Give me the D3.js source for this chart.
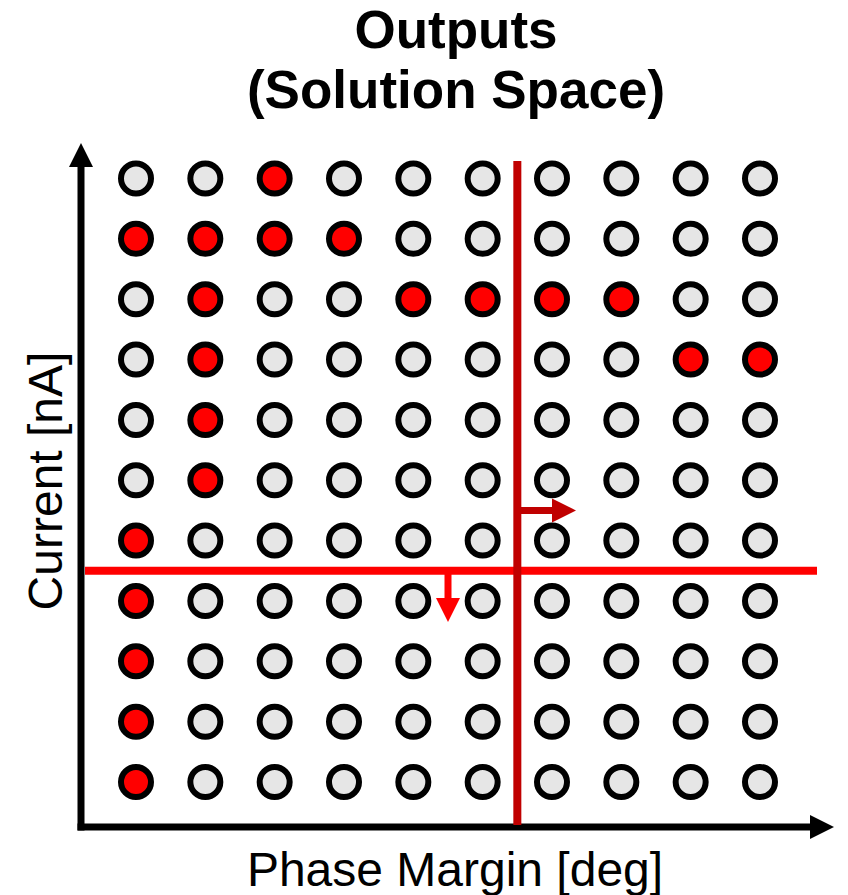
<!DOCTYPE html>
<html>
<head>
<meta charset="utf-8">
<script src="https://cdn.jsdelivr.net/npm/d3@7"></script>
<style>
  html, body { margin: 0; padding: 0; background: #fff; }
  svg { display: block; font-family: "Liberation Sans", Arial, sans-serif; }
</style>
</head>
<body>
<div id="chart"></div>
<script>
// Grid of candidate solutions: 10 phase-margin steps x 11 current steps
const columns = d3.range(10);
const rows = d3.range(11);
// red (selected) columns for each row, top row first
const selectedByRow = [[2], [0, 1, 2, 3], [1, 4, 5, 6, 7], [1, 8, 9], [1], [1], [0], [0], [0], [0], [0]];
// constraint boundaries, in grid units
const pmLimit = 5.5;       // vertical line, between col 5 and 6
const currentLimit = 6.5;  // horizontal line, between row 6 and 7
const titleLines = ['Outputs', '(Solution Space)'];
const xLabel = 'Phase Margin [deg]';
const yLabel = 'Current [nA]';

const W = 848, H = 895;

const svg = d3.select('#chart')
  .append('svg')
  .attr('width', W)
  .attr('height', H)
  .attr('viewBox', `0 0 ${W} ${H}`);

const x = d3.scaleLinear().domain([0, 9]).range([136, 760]);
const y = d3.scaleLinear().domain([0, 10]).range([178.5, 782]);

const cells = rows.flatMap(r => columns.map(c => ({ r, c, on: selectedByRow[r].includes(c) })));

// Title
svg.append('g').selectAll('text')
  .data(titleLines)
  .join('text')
  .attr('x', 456)
  .attr('y', (d, i) => 48 + i * 60)
  .attr('text-anchor', 'middle')
  .attr('font-size', '53px')
  .attr('font-weight', 'bold')
  .attr('fill', '#000')
  .text(d => d);

// Axes (plain arrows)
const axisX = 81, axisY = 827;
svg.append('line')
  .attr('x1', axisX).attr('x2', axisX)
  .attr('y1', axisY + 3.5).attr('y2', 165)
  .attr('stroke', '#000').attr('stroke-width', 7);
svg.append('path')
  .attr('d', `M${axisX - 12},167 L${axisX},143 L${axisX + 12},167 Z`)
  .attr('fill', '#000');

svg.append('line')
  .attr('x1', axisX - 3.5).attr('x2', 812)
  .attr('y1', axisY).attr('y2', axisY)
  .attr('stroke', '#000').attr('stroke-width', 7);
svg.append('path')
  .attr('d', `M810,${axisY - 12} L834,${axisY} L810,${axisY + 12} Z`)
  .attr('fill', '#000');

// Points
svg.append('g').selectAll('circle')
  .data(cells)
  .join('circle')
  .attr('cx', d => x(d.c))
  .attr('cy', d => y(d.r))
  .attr('r', 15)
  .attr('fill', d => d.on ? '#ff0000' : '#e6e6e6')
  .attr('stroke', '#000')
  .attr('stroke-width', 6);

// Constraint: current limit (horizontal) with downward arrow
const hy = y(currentLimit);
svg.append('line')
  .attr('x1', 85).attr('x2', 817)
  .attr('y1', hy).attr('y2', hy)
  .attr('stroke', '#ff0000').attr('stroke-width', 8);
const dx = x(4.5);
svg.append('line')
  .attr('x1', dx).attr('x2', dx)
  .attr('y1', hy).attr('y2', 600)
  .attr('stroke', '#ff0000').attr('stroke-width', 7);
svg.append('path')
  .attr('d', `M${dx - 12},598 L${dx},622 L${dx + 12},598 Z`)
  .attr('fill', '#ff0000');

// Constraint: phase margin (vertical) with rightward arrow
const vx = x(pmLimit);
svg.append('line')
  .attr('x1', vx).attr('x2', vx)
  .attr('y1', 161).attr('y2', 825)
  .attr('stroke', '#c00000').attr('stroke-width', 8);
const ay = y(5.5);
svg.append('line')
  .attr('x1', vx).attr('x2', 554)
  .attr('y1', ay).attr('y2', ay)
  .attr('stroke', '#c00000').attr('stroke-width', 7);
svg.append('path')
  .attr('d', `M552,${ay - 12} L576,${ay} L552,${ay + 12} Z`)
  .attr('fill', '#c00000');

// Axis labels
svg.append('text')
  .attr('x', 455).attr('y', 886)
  .attr('text-anchor', 'middle')
  .attr('font-size', '48px')
  .attr('fill', '#000')
  .text(xLabel);

svg.append('text')
  .attr('transform', 'rotate(-90)')
  .attr('x', -481).attr('y', 62)
  .attr('text-anchor', 'middle')
  .attr('font-size', '48px')
  .attr('fill', '#000')
  .text(yLabel);
</script>
</body>
</html>
